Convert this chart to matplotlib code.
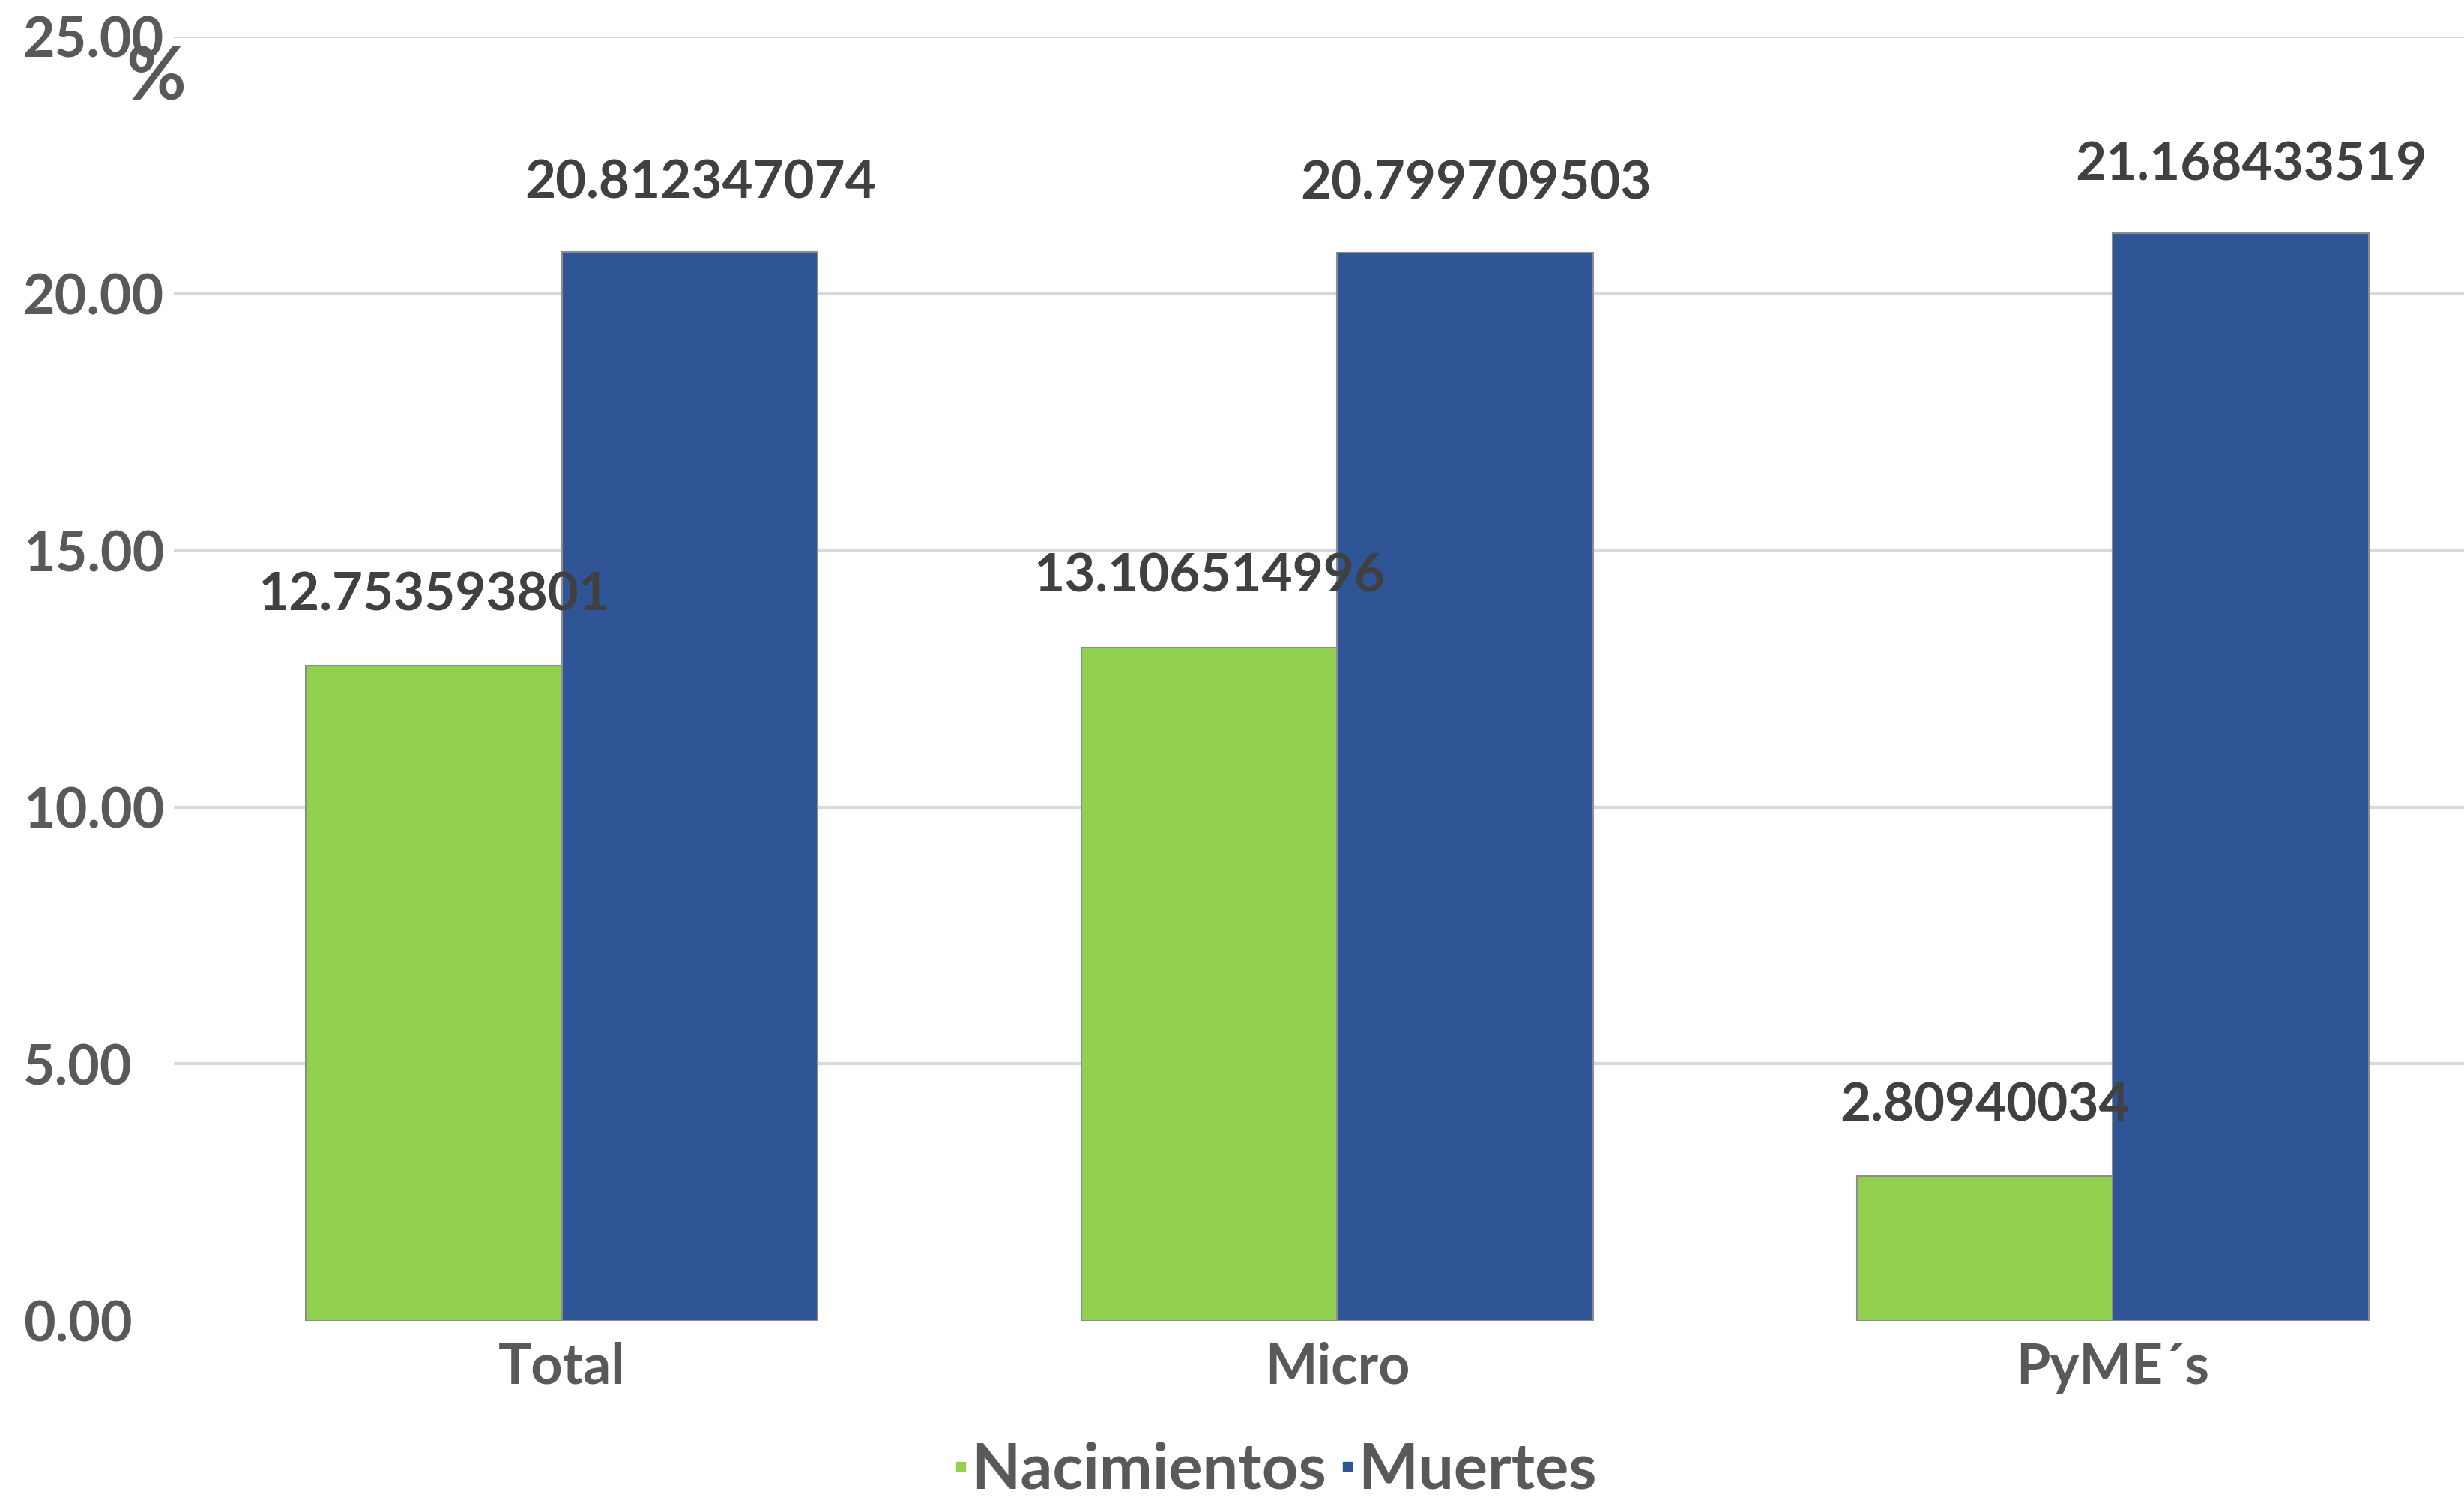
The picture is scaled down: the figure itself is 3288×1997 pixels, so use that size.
import matplotlib.pyplot as plt
import numpy as np
from matplotlib.lines import Line2D

# 데이터
categorias = ['Total', 'Micro', 'PyME´s']
nacimientos = [12.753593801, 13.106514996, 2.80940034]
muertes = [20.812347074, 20.799709503, 21.168433519]
etiquetas_nac = ['12.753593801', '13.106514996', '2.80940034']
etiquetas_mue = ['20.812347074', '20.799709503', '21.168433519']
series = ['Nacimientos', 'Muertes']
yticks = [0, 5, 10, 15, 20, 25]

verde = '#92D050'
azul = '#2F5597'
gris_txt = '#595959'
gris_dato = '#404040'

plt.rcParams['font.family'] = ['Lato', 'DejaVu Sans']
plt.rcParams['font.weight'] = 'bold'

fig = plt.figure(figsize=(32.88, 19.97), dpi=100)
ax = fig.add_axes([0.0706, 0.1177, 0.9294, 0.8578])

x = np.arange(len(categorias))
w = 0.33
b1 = ax.bar(x - w / 2, nacimientos, w, color=verde, edgecolor='#8c8c8c', linewidth=1.5, zorder=3)
b2 = ax.bar(x + w / 2, muertes, w, color=azul, edgecolor='#8c8c8c', linewidth=1.5, zorder=3)

# etiquetas de datos
for rect, txt in zip(b1, etiquetas_nac):
    ax.annotate(txt, (rect.get_x() + rect.get_width() / 2, rect.get_height()),
                xytext=(0, 68), textcoords='offset points', ha='center', va='center',
                fontsize=51, color=gris_dato, fontweight='bold', zorder=5)
for rect, txt in zip(b2, etiquetas_mue):
    ax.annotate(txt, (rect.get_x() + rect.get_width() / 2, rect.get_height()),
                xytext=(10, 66), textcoords='offset points', ha='center', va='center',
                fontsize=51, color=gris_dato, fontweight='bold', zorder=5)

ax.set_ylim(0, 25)
ax.set_xlim(-0.5, 2.453)
ax.set_yticks(yticks)
ax.set_yticklabels(['%.2f' % v for v in yticks])
ax.set_xticks(x)
ax.set_xticklabels(categorias)

for v in yticks[1:]:
    ax.axhline(v, color='#D9D9D9', linewidth=3, zorder=1)

for s in ax.spines.values():
    s.set_visible(False)
ax.tick_params(axis='both', length=0, labelsize=53, labelcolor=gris_txt)
ax.tick_params(axis='y', pad=145)
ax.tick_params(axis='x', pad=20)
for lab in ax.get_yticklabels():
    lab.set_ha('left')

fig.text(208 / 3288, 1 - 104 / 1997, '%', fontsize=70, color=gris_txt,
         fontweight='bold', ha='center', va='center')

handles = [Line2D([], [], marker='s', linestyle='', markersize=9, color=verde),
           Line2D([], [], marker='s', linestyle='', markersize=9, color=azul)]
fig.legend(handles, series, loc='center', bbox_to_anchor=(0.518, 1 - 1961 / 1997),
           ncol=2, frameon=False, fontsize=61, labelcolor=gris_txt,
           handlelength=0.15, handletextpad=0.1, columnspacing=0.25)

fig.savefig('out.png', dpi=100)
